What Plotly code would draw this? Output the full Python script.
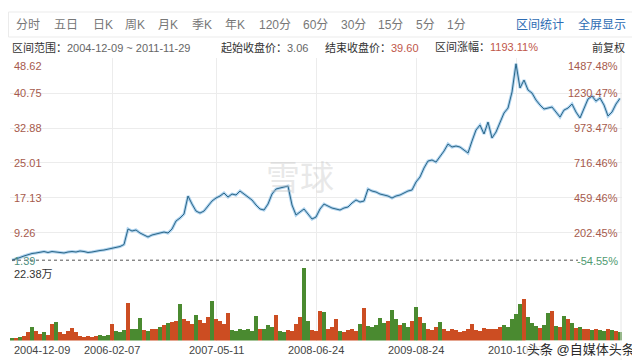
import plotly.graph_objects as go

# ---------------- data ----------------
start_date = "2004-12-09"
end_date = "2011-11-29"
start_close = 3.06
end_close = 39.60
range_change = "1193.11%"

# sampled closing prices (front-adjusted), evenly spaced trading-day samples
price = [3.06, 3.44, 3.67, 4.01, 4.35, 4.57, 4.69, 4.91, 5.02, 4.80,
         5.02, 4.91, 4.80, 4.69, 4.91, 5.02, 4.91, 5.14, 5.02, 4.80,
         4.91, 5.14, 5.25, 5.36, 5.59, 5.70, 6.04, 6.15, 6.60, 10.10,
         9.65, 9.88, 9.20, 8.75, 8.30, 8.75, 8.97, 9.20, 9.42, 9.20,
         10.10, 11.91, 12.58, 13.49, 17.55, 15.74, 14.16, 13.71, 14.16, 15.29,
         16.42, 17.10, 17.55, 18.23, 17.32, 18.00, 17.78, 18.68, 18.00, 17.32,
         16.65, 15.52, 14.62, 14.39, 15.74, 18.00, 19.13, 19.36, 19.58, 19.81,
         15.52, 13.26, 13.94, 14.62, 13.49, 12.36, 12.81, 14.62, 15.74, 15.29,
         14.84, 14.62, 14.39, 14.84, 15.07, 15.97, 16.65, 16.20, 16.42, 19.13,
         18.68, 18.45, 18.00, 17.78, 17.55, 17.10, 17.55, 17.78, 18.23, 18.68,
         18.91, 20.71, 21.84, 23.87, 25.45, 25.68, 25.22, 26.35, 27.71, 29.29,
         28.61, 28.84, 28.61, 27.93, 27.26, 29.96, 32.45, 33.58, 31.55, 34.25,
         30.64, 32.00, 34.25, 36.29, 37.41, 41.03, 47.40, 41.93, 43.73, 41.48,
         40.80, 39.22, 38.09, 37.19, 37.41, 37.64, 36.51, 35.38, 36.96, 37.41,
         38.32, 36.51, 35.16, 37.41, 39.45, 40.12, 38.99, 39.67, 38.09, 35.61,
         36.51, 38.32, 39.60]

# volume in 万 (10k shares) for the same samples
volume = [0.9, 0.9, 1.2, 1.5, 2.5, 4.3, 2.8, 2.1, 2.5, 1.8,
          5.2, 5.8, 2.5, 2.1, 2.8, 4.0, 2.5, 1.5, 1.2, 1.5,
          1.2, 1.5, 1.8, 1.5, 1.8, 5.2, 2.8, 2.5, 3.1, 11.7,
          3.7, 3.4, 7.1, 3.1, 2.8, 3.7, 3.4, 4.3, 4.9, 5.5,
          5.8, 6.1, 11.3, 6.7, 6.1, 5.2, 8.0, 6.4, 5.5, 7.4,
          12.3, 6.7, 6.1, 5.2, 8.6, 3.1, 2.8, 3.4, 3.1, 3.7,
          2.8, 7.7, 3.7, 3.4, 4.9, 4.3, 8.0, 2.8, 2.5, 3.1,
          2.8, 5.2, 7.4, 22.38, 6.1, 3.1, 2.8, 9.2, 8.9, 3.7,
          4.3, 6.7, 2.8, 2.5, 3.1, 3.7, 2.8, 5.2, 10.1, 4.6,
          4.3, 4.9, 7.1, 5.5, 6.1, 9.5, 6.7, 4.9, 5.5, 4.3,
          6.1, 10.4, 7.4, 5.5, 3.7, 3.1, 4.3, 5.8, 3.7, 2.8,
          3.4, 3.1, 2.5, 2.8, 3.7, 5.2, 3.1, 2.8, 4.0, 3.7,
          3.4, 3.7, 4.3, 4.9, 4.3, 6.7, 8.3, 11.3, 12.9, 7.4,
          5.5, 4.6, 4.0, 4.9, 8.6, 9.2, 4.6, 4.3, 7.7, 6.7,
          5.5, 4.0, 4.3, 3.7, 3.4, 3.1, 3.7, 3.1, 2.8, 3.4,
          3.1, 2.8, 2.5]

# r = up day (red), g = down day (green)
updown = ("grgrrgrrgr" "rgrrrrrrrr" "rrgggrgggr" "gggrgrrgrg" "rrgrrrgrrr"
          "grrrrggggg" "ggrgggrggr" "rrrggrrrgr" "rrgrrrrgrg" "ggggrggrgg"
          "rgrgrrrgrr" "rrrrrrrrrr" "rrrgggggrg" "ggrggrgrgr" "grgrrgrggrgrg")

price_ticks = [1.39, 9.26, 17.13, 25.01, 32.88, 40.75, 48.62]
pct_ticks = ["-54.55%", "202.45%", "459.46%", "716.46%", "973.47%", "1230.47%", "1487.48%"]
vol_max_label = "22.38万"

date_tick_idx = [0, 25, 51, 76, 101, 126]
date_tick_text = ["2004-12-09", "2006-02-07", "2007-05-11", "2008-06-24", "2009-08-24", "2010-10-27"]

tabs = ["分时", "五日", "日K", "周K", "月K", "季K", "年K", "120分", "60分", "30分", "15分", "5分", "1分"]
tab_x = [14, 52, 91, 123, 156, 190, 223, 257, 301, 339, 376, 414, 445]

# ---------------- figure ----------------
OFF = 8  # default page body margin
W, H = 640 - OFF, 362 - OFF
FONT = "Liberation Sans, Arial, Noto Sans CJK SC, sans-serif"
idx = list(range(len(price)))


def py(px):
    return 1 - (px - OFF) / H


def pxx(px):
    return (px - OFF) / W


fig = go.Figure()

# price line (halo + core)
fig.add_trace(go.Scatter(x=idx, y=price, mode="lines", xaxis="x", yaxis="y",
                         line=dict(color="rgba(110,175,225,0.55)", width=3.0),
                         hoverinfo="skip", showlegend=False))
fig.add_trace(go.Scatter(x=idx, y=price, mode="lines", xaxis="x", yaxis="y",
                         line=dict(color="#2a6585", width=1.0),
                         showlegend=False))

bar_colors = ["#cc4d22" if c == "r" else "#4a8a30" for c in updown]
fig.add_trace(go.Bar(x=idx, y=volume, xaxis="x2", yaxis="y2",
                     marker=dict(color=bar_colors, line=dict(width=0)),
                     width=1.0, showlegend=False))

x_dom = [pxx(10), pxx(622)]
xr = [-0.5, len(price) - 0.5]

fig.update_layout(
    width=W, height=H,
    margin=dict(l=0, r=0, t=0, b=0),
    paper_bgcolor="white", plot_bgcolor="white",
    font=dict(family=FONT, size=11, color="#444"),
    bargap=0,
    xaxis=dict(domain=x_dom, range=xr, tickvals=date_tick_idx[1:], showticklabels=False,
               showgrid=True, gridcolor="#ececec", gridwidth=1, zeroline=False,
               showline=False, ticks="", anchor="y"),
    yaxis=dict(domain=[py(267.6), py(58.4)], range=[price_ticks[0], price_ticks[-1]],
               tickvals=price_ticks, showticklabels=False, showgrid=True,
               gridcolor="#ececec", zeroline=False, showline=False, anchor="x"),
    xaxis2=dict(domain=x_dom, range=xr, matches="x", tickvals=date_tick_idx[1:],
                showticklabels=False, showgrid=True, gridcolor="#ececec",
                zeroline=False, showline=False, ticks="", anchor="y2"),
    yaxis2=dict(domain=[py(340.5), py(268)], range=[0, max(volume)],
                showticklabels=False, showgrid=False, zeroline=False,
                showline=False, anchor="x2"),
)

ann = []
shapes = []

# header box
shapes.append(dict(type="rect", xref="paper", yref="paper",
                   x0=pxx(8.5), x1=pxx(634), y0=py(37), y1=py(12),
                   line=dict(color="#ebebeb", width=1), fillcolor="rgba(0,0,0,0)", layer="below"))

for t, x in zip(tabs, tab_x):
    ann.append(dict(text=t, x=pxx(x), y=py(25), xanchor="left", yanchor="middle",
                    font=dict(size=12, color="#777")))
ann.append(dict(text="区间统计", x=pxx(514), y=py(25), xanchor="left", yanchor="middle",
                font=dict(size=12, color="#2d6cb3")))
ann.append(dict(text="全屏显示", x=pxx(628), y=py(25), xanchor="right", yanchor="middle",
                font=dict(size=12, color="#2d6cb3")))

info = [("区间范围：", f"{start_date} ~ {end_date}", 10, "#666"),
        ("起始收盘价：", f"{start_close:.2f}", 219, "#666"),
        ("结束收盘价：", f"{end_close:.2f}", 323, "#c0574a"),
        ("区间涨幅：", range_change, 433, "#c0574a")]
for lab, val, x, c in info:
    ann.append(dict(text=f"{lab}<span style='color:{c}'>{val}</span>", x=pxx(x), y=py(47),
                    xanchor="left", yanchor="middle", font=dict(size=11, color="#333")))
ann.append(dict(text="前复权", x=pxx(627), y=py(47), xanchor="right", yanchor="middle",
                font=dict(size=11, color="#333")))

# axis labels (price left, percent right)
n = len(price_ticks)
for i, (v, p) in enumerate(zip(price_ticks, pct_ticks)):
    shift = 0
    if i == 0:
        shift = 7
    elif i == n - 1:
        shift = -8
    lc = "#4f8f7f" if i == 0 else "#a65a4c"
    rc = "#4f9a70" if i == 0 else "#a65a4c"
    ann.append(dict(text=f"{v:.2f}", xref="paper", yref="y", x=pxx(12), y=v, yshift=shift,
                    xanchor="left", yanchor="middle", font=dict(size=11, color=lc)))
    ann.append(dict(text=p, xref="paper", yref="y", x=pxx(620), y=v, yshift=shift,
                    xanchor="right", yanchor="middle", font=dict(size=11, color=rc)))

# start price dotted reference line
shapes.append(dict(type="line", xref="paper", yref="y", x0=pxx(12), x1=pxx(578),
                   y0=start_close, y1=start_close, line=dict(color="#555", width=1, dash="dot")))

# right border
shapes.append(dict(type="line", xref="paper", yref="paper", x0=pxx(621), x1=pxx(621),
                   y0=py(360), y1=py(40), line=dict(color="#e6e6e6", width=1)))

ann.append(dict(text=vol_max_label, x=pxx(12), y=py(274), xanchor="left", yanchor="middle",
                font=dict(size=11, color="#333")))

# date labels
for i, (k, t) in enumerate(zip(date_tick_idx, date_tick_text)):
    if i == 0:
        ann.append(dict(text=t, x=pxx(12), y=py(350), xanchor="left", yanchor="middle",
                        font=dict(size=11, color="#444")))
    else:
        ann.append(dict(text=t, xref="x2", x=k, y=py(350), xanchor="center", yanchor="middle",
                        font=dict(size=11, color="#444")))

# watermarks
ann.append(dict(text="雪球", x=pxx(300), y=py(178), xanchor="center", yanchor="middle",
                font=dict(size=34, color="rgba(190,190,190,0.35)")))
ann.append(dict(text="头条 @自媒体头条", x=pxx(637), y=py(349), xanchor="right", yanchor="middle",
                font=dict(size=13, color="#2a2a2a"), bgcolor="rgba(255,255,255,0.7)"))

for a in ann:
    a.setdefault("xref", "paper")
    a.setdefault("yref", "paper")
    a["showarrow"] = False

fig.update_layout(annotations=ann, shapes=shapes)
fig.write_html("out.html")
